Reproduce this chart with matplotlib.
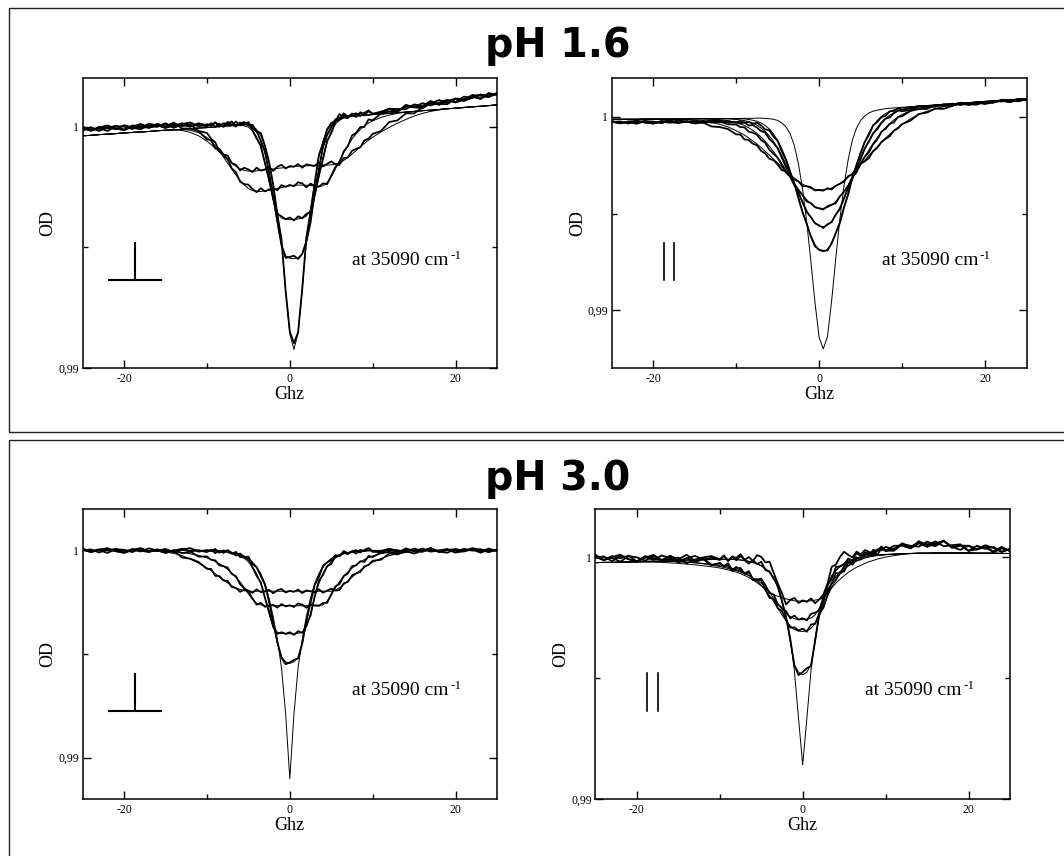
import numpy as np
import matplotlib.pyplot as plt
from matplotlib.patches import Rectangle

# frequency axis (GHz), shared by the four panels
ghz = [-25, -24, -23, -22, -21, -20, -19, -18, -17, -16, -15, -14, -13, -12, -11,
       -10, -9.5, -9, -8.5, -8, -7.5, -7, -6.5, -6, -5.5,
       -5, -4.5, -4, -3.5, -3, -2.5, -2, -1.5, -1, -0.5,
       0, 0.5, 1, 1.5, 2, 2.5, 3, 3.5, 4, 4.5,
       5, 5.5, 6, 6.5, 7, 7.5, 8, 8.5, 9, 9.5, 10,
       11, 12, 13, 14, 15, 16, 17, 18, 19, 20, 21, 22, 23, 24, 25]

# all curves below are (OD - 1) in units of 1e-5

# ---- pH 1.6, perpendicular : fits ----
p16_perp_fit_a = [-38, -36, -33, -31, -29, -26, -24, -22, -20, -17, -15, -13, -16, -24, -38,
                  -60, -74, -89, -105, -121, -137, -151, -164, -174, -181,
                  -184, -184, -183, -181, -179, -177, -175, -173, -171, -169,
                  -167, -165, -164, -163, -162, -161, -160, -160, -159, -159,
                  -158, -155, -150, -140, -128, -114, -99, -84, -69, -56, -44,
                  -22, -3, 14, 30, 44, 55, 63, 69, 74, 77, 80, 82, 85, 87, 90]
p16_perp_fit_b = [-38, -36, -33, -31, -29, -26, -24, -22, -20, -17, -15, -13, -12, -15, -25,
                  -45, -60, -80, -102, -126, -151, -176, -200, -222, -241,
                  -256, -265, -268, -268, -266, -263, -260, -256, -252, -248,
                  -245, -243, -242, -242, -243, -244, -246, -247, -245, -232,
                  -208, -175, -140, -108, -78, -52, -30, -12, 3, 15, 24,
                  38, 48, 55, 60, 63, 66, 68, 71, 74, 76, 79, 82, 84, 87, 90]
p16_perp_fit_c = [-38, -36, -33, -31, -29, -26, -24, -22, -20, -17, -15, -13, -11, -8, -6,
                  -4, -3, -1, 0, 2, 3, 4, 6, 7, 3,
                  -2, -17, -43, -86, -150, -229, -302, -356, -378, -384,
                  -385, -384, -382, -378, -370, -345, -289, -213, -131, -65,
                  -19, 10, 27, 35, 42, 43, 44, 46, 47, 48, 50,
                  52, 55, 58, 60, 63, 66, 68, 71, 74, 76, 79, 82, 84, 87, 90]
p16_perp_fit_d = [-38, -36, -33, -31, -29, -26, -24, -22, -20, -17, -15, -13, -11, -8, -6,
                  -4, -3, -1, 0, 2, 3, 4, 6, 7, 8,
                  5, -4, -23, -56, -110, -189, -292, -401, -490, -534,
                  -545, -546, -542, -528, -482, -390, -279, -173, -91, -35,
                  1, 23, 34, 40, 42, 43, 44, 46, 47, 48, 50,
                  52, 55, 58, 60, 63, 66, 68, 71, 74, 76, 79, 82, 84, 87, 90]
p16_perp_fit_e = [-38, -36, -33, -31, -29, -26, -24, -22, -20, -17, -15, -13, -11, -8, -6,
                  -4, -3, -1, 0, 2, 3, 4, 6, 7, 8,
                  10, 1, -12, -38, -80, -144, -247, -359, -480, -679,
                  -857, -922, -854, -673, -472, -348, -234, -128, -61, -17,
                  12, 28, 39, 40, 42, 43, 44, 46, 47, 48, 50,
                  52, 55, 58, 60, 63, 66, 68, 71, 74, 76, 79, 82, 84, 87, 90]

# ---- pH 1.6, perpendicular : measured ----
p16_perp_dat_a = [-5, -17, -4, 5, -8, -13, 5, 0, -5, 12, 1, 17, -8, -8, -19,
                  -53, -55, -90, -92, -115, -120, -151, -158, -181, -170,
                  -177, -188, -170, -182, -177, -167, -183, -166, -158, -173,
                  -163, -166, -155, -170, -156, -160, -163, -148, -165, -154,
                  -144, -155, -158, -130, -128, -100, -92, -86, -57, -50, -30,
                  -18, 19, 26, 55, 55, 79, 100, 92, 108, 101, 124, 119, 132, 123, 138]
p16_perp_dat_b = [-7, -16, -1, -7, 4, -13, 2, -5, 12, 5, -5, 12, 2, 9, -18,
                  -26, -50, -65, -101, -117, -135, -173, -189, -228, -238,
                  -240, -258, -271, -255, -268, -260, -254, -263, -242, -249,
                  -241, -247, -230, -235, -251, -236, -245, -249, -235, -238,
                  -203, -167, -149, -103, -81, -37, -26, -2, -1, 30, 26,
                  54, 62, 61, 90, 80, 97, 88, 99, 111, 100, 111, 131, 128, 122, 140]
p16_perp_dat_c = [0, -16, -6, -18, 2, 0, -10, 9, -3, 2, 11, -5, 11, 17, 1,
                  10, 5, 17, 0, 14, 10, 6, 21, 5, 11,
                  14, -15, -50, -77, -151, -217, -299, -362, -371, -383,
                  -376, -388, -371, -379, -361, -353, -285, -200, -135, -59,
                  -27, 20, 29, 45, 39, 51, 55, 44, 57, 66, 53,
                  52, 74, 73, 72, 92, 85, 106, 90, 106, 116, 110, 128, 114, 134, 133]
p16_perp_dat_d = [-10, -4, -17, 1, -7, -15, 0, 11, -5, 7, -5, 4, 14, 1, 8,
                  1, 14, -1, 12, 3, 19, 9, 0, 17, 9,
                  19, -8, -18, -59, -100, -189, -295, -391, -491, -543,
                  -539, -534, -548, -526, -474, -398, -274, -183, -81, -35,
                  -3, 30, 29, 55, 42, 50, 40, 59, 53, 67, 51,
                  59, 75, 64, 82, 84, 81, 104, 94, 93, 116, 113, 123, 117, 139, 131]
p16_perp_dat_e = [-17, -3, -17, -3, -11, 6, -4, -11, 6, -1, 14, -3, 7, 0, 14,
                  5, 3, 17, 6, -1, 14, 21, 4, 12, 19,
                  5, 8, -20, -26, -79, -147, -240, -365, -467, -681,
                  -848, -896, -851, -672, -458, -353, -235, -118, -69, -11,
                  15, 23, 52, 39, 35, 54, 48, 55, 46, 64, 53,
                  62, 72, 63, 85, 80, 76, 96, 110, 98, 114, 106, 119, 133, 125, 136]

# ---- pH 1.6, parallel : fits ----
p16_par_fit_a = [-12, -12, -12, -12, -11, -11, -11, -12, -12, -14, -17, -21, -28, -38, -51,
                 -71, -82, -94, -108, -124, -140, -158, -178, -197, -218,
                 -238, -260, -279, -298, -316, -333, -347, -359, -369, -375,
                 -377, -377, -373, -367, -357, -344, -328, -311, -290, -269,
                 -246, -224, -199, -176, -153, -131, -109, -89, -70, -53, -37,
                 -10, 13, 30, 43, 53, 61, 67, 72, 76, 80, 83, 86, 89, 92, 95]
p16_par_fit_b = [-12, -12, -12, -12, -11, -11, -11, -11, -10, -10, -10, -10, -12, -15, -19,
                 -29, -36, -44, -56, -69, -85, -104, -126, -151, -179,
                 -209, -241, -275, -308, -342, -374, -403, -428, -449, -464,
                 -472, -473, -468, -456, -437, -413, -384, -352, -316, -279,
                 -242, -205, -170, -137, -107, -79, -55, -34, -15, -1, 13,
                 32, 45, 53, 59, 64, 68, 71, 74, 77, 80, 83, 86, 89, 92, 95]
p16_par_fit_c = [-12, -12, -12, -12, -11, -11, -11, -11, -10, -10, -10, -9, -9, -10, -10,
                 -13, -16, -19, -24, -32, -42, -57, -75, -98, -126,
                 -160, -200, -243, -291, -341, -391, -439, -483, -520, -548,
                 -564, -568, -560, -540, -508, -468, -420, -369, -315, -262,
                 -210, -164, -121, -84, -54, -28, -8, 9, 22, 31, 38,
                 48, 54, 58, 62, 65, 68, 71, 74, 77, 80, 83, 86, 89, 92, 95]
p16_par_fit_d = [-12, -12, -12, -12, -11, -11, -11, -11, -10, -10, -10, -9, -9, -9, -8,
                 -9, -10, -10, -13, -17, -22, -31, -44, -62, -88,
                 -121, -164, -215, -275, -342, -413, -486, -555, -615, -660,
                 -688, -697, -684, -652, -603, -540, -467, -391, -316, -246,
                 -182, -128, -82, -46, -18, 3, 18, 29, 37, 42, 47,
                 52, 56, 59, 62, 65, 68, 71, 74, 77, 80, 83, 86, 89, 92, 95]
p16_par_fit_e = [-12, -12, -12, -12, -11, -11, -11, -11, -10, -10, -10, -9, -9, -9, -8,
                 -8, -8, -7, -7, -7, -6, -6, -8, -9, -12,
                 -18, -31, -51, -87, -146, -242, -373, -542, -746, -961,
                 -1141, -1199, -1137, -953, -734, -527, -354, -220, -120, -58,
                 -18, 5, 21, 30, 35, 39, 43, 45, 47, 48, 50,
                 53, 56, 59, 62, 65, 68, 71, 74, 77, 80, 83, 86, 89, 92, 95]

# ---- pH 1.6, parallel : measured ----
p16_par_dat_a = [-23, -33, -25, -19, -29, -33, -21, -27, -31, -23, -34, -28, -49, -52, -62,
                 -90, -91, -116, -119, -138, -146, -175, -189, -216, -224,
                 -246, -275, -281, -308, -323, -333, -358, -358, -363, -380,
                 -378, -381, -369, -375, -356, -346, -334, -306, -297, -269,
                 -240, -230, -212, -177, -161, -130, -113, -100, -71, -59, -37,
                 -19, 15, 23, 43, 42, 57, 70, 63, 74, 68, 84, 80, 88, 82, 92]
p16_par_dat_b = [-25, -32, -23, -28, -20, -33, -23, -30, -17, -24, -31, -20, -29, -23, -38,
                 -39, -52, -54, -76, -81, -92, -119, -134, -170, -190,
                 -211, -248, -288, -308, -352, -379, -404, -437, -445, -467,
                 -473, -479, -462, -454, -446, -410, -387, -357, -312, -287,
                 -242, -206, -183, -141, -117, -77, -61, -36, -28, 0, 4,
                 31, 41, 42, 62, 57, 69, 62, 69, 77, 68, 75, 89, 86, 81, 94]
p16_par_dat_c = [-20, -32, -26, -35, -22, -24, -32, -20, -28, -26, -20, -31, -20, -17, -29,
                 -27, -33, -27, -44, -42, -55, -73, -80, -114, -134,
                 -162, -210, -259, -294, -350, -390, -442, -492, -518, -550,
                 -561, -574, -555, -544, -505, -476, -421, -363, -321, -261,
                 -219, -163, -127, -85, -64, -31, -9, -2, 19, 34, 30,
                 36, 54, 53, 53, 66, 61, 74, 63, 73, 79, 74, 87, 76, 90, 89]
p16_par_dat_d = [-27, -23, -34, -22, -28, -34, -25, -18, -29, -22, -31, -25, -18, -28, -22,
                 -29, -21, -31, -25, -35, -29, -44, -64, -69, -101,
                 -124, -179, -222, -286, -343, -420, -494, -552, -619, -669,
                 -687, -692, -691, -654, -601, -548, -467, -401, -312, -249,
                 -188, -129, -93, -43, -26, -1, 6, 29, 31, 45, 38,
                 45, 57, 48, 60, 61, 58, 73, 65, 64, 79, 77, 83, 78, 93, 87]

# ---- pH 3.0, perpendicular : fits ----
p30_perp_fit_a = [0, 0, 0, 0, 0, 0, 0, -1, -2, -4, -8, -14, -25, -42, -62,
                  -84, -97, -112, -128, -143, -157, -170, -182, -188, -195,
                  -197, -197, -197, -197, -197, -197, -197, -197, -197, -197,
                  -197, -197, -197, -197, -197, -197, -197, -197, -197, -197,
                  -197, -192, -180, -165, -148, -130, -112, -96, -82, -69, -57,
                  -39, -25, -16, -10, -6, -3, -2, -1, 0, 0, 0, 0, 0, 0, 0]
p30_perp_fit_b = [0, 0, 0, 0, 0, 0, 0, 0, -1, -2, -3, -6, -10, -16, -24,
                  -36, -44, -53, -64, -77, -92, -110, -130, -152, -180,
                  -210, -235, -255, -263, -267, -267, -267, -267, -267, -267,
                  -267, -267, -267, -267, -267, -266, -265, -264, -263, -245,
                  -215, -180, -150, -125, -104, -86, -70, -56, -44, -35, -27,
                  -16, -9, -5, -2, -1, 0, 0, 0, 0, 0, 0, 0, 0, 0, 0]
p30_perp_fit_c = [0, 0, 0, 0, 0, 0, 0, 0, 0, 0, 0, 0, 0, 0, 0,
                  0, 0, -1, -2, -4, -7, -11, -17, -25, -37,
                  -55, -80, -112, -160, -225, -305, -370, -395, -400, -402,
                  -402, -402, -400, -395, -370, -305, -225, -160, -112, -80,
                  -55, -37, -25, -17, -11, -7, -4, -2, -1, 0, 0,
                  0, 0, 0, 0, 0, 0, 0, 0, 0, 0, 0, 0, 0, 0, 0]
p30_perp_fit_d = [0, 0, 0, 0, 0, 0, 0, 0, 0, 0, 0, 0, 0, 0, 0,
                  -1, -2, -3, -4, -5, -7, -10, -14, -20, -28,
                  -40, -57, -82, -118, -170, -245, -345, -450, -515, -538,
                  -545, -538, -515, -450, -345, -245, -170, -118, -82, -57,
                  -40, -28, -20, -14, -10, -7, -5, -4, -3, -2, -1,
                  0, 0, 0, 0, 0, 0, 0, 0, 0, 0, 0, 0, 0, 0, 0]
p30_perp_fit_e = [0, 0, 0, 0, 0, 0, 0, 0, 0, 0, 0, 0, 0, 0, 0,
                  -1, -2, -3, -4, -5, -7, -10, -14, -20, -28,
                  -40, -57, -80, -112, -160, -230, -320, -430, -566, -790,
                  -1102, -790, -566, -430, -320, -230, -160, -112, -80, -57,
                  -40, -28, -20, -14, -10, -7, -5, -4, -3, -2, -1,
                  0, 0, 0, 0, 0, 0, 0, 0, 0, 0, 0, 0, 0, 0, 0]

# ---- pH 3.0, perpendicular : measured ----
p30_perp_dat_a = [5, -8, 3, 11, -4, -10, 7, -1, -8, 5, -11, -2, -34, -40, -56,
                  -89, -89, -123, -124, -145, -147, -177, -181, -200, -189,
                  -194, -205, -188, -201, -198, -190, -207, -192, -186, -203,
                  -195, -200, -189, -206, -193, -197, -202, -187, -204, -194,
                  -185, -194, -191, -159, -152, -121, -111, -104, -77, -70, -50,
                  -45, -15, -19, -3, -15, -1, 9, -6, 4, -10, 8, -1, 6, -7, 3]
p30_perp_dat_b = [3, -7, 6, -1, 8, -10, 4, -5, 10, 0, -12, 1, -13, -6, -30,
                  -29, -45, -48, -72, -76, -83, -114, -124, -163, -182,
                  -198, -232, -262, -253, -272, -267, -263, -276, -259, -270,
                  -265, -273, -256, -262, -277, -259, -266, -268, -254, -253,
                  -212, -174, -162, -124, -111, -76, -72, -52, -55, -27, -32,
                  -10, -7, -14, 10, -4, 9, -6, 0, 7, -10, -4, 11, 3, -8, 5]
p30_perp_dat_c = [10, -7, 1, -12, 6, 3, -8, 9, -4, -1, 7, -10, 5, 11, -6,
                  2, -3, 7, -11, 0, -7, -16, -7, -32, -34,
                  -43, -82, -123, -154, -229, -296, -369, -403, -395, -403,
                  -395, -408, -390, -398, -363, -314, -223, -149, -117, -76,
                  -65, -29, -26, -11, -18, -4, 1, -10, 2, 11, -4,
                  -10, 7, 0, -6, 9, -3, 12, -9, 2, 6, -5, 8, -11, 4, -2]
p30_perp_dat_d = [0, 5, -10, 7, -3, -12, 2, 11, -6, 4, -9, -1, 8, -5, 1,
                  -8, 4, -13, -1, -12, 2, -12, -25, -15, -32,
                  -30, -65, -81, -124, -163, -248, -350, -442, -518, -549,
                  -541, -528, -522, -450, -339, -254, -167, -130, -73, -59,
                  -46, -23, -28, -3, -14, -5, -15, 3, -4, 10, -7,
                  -3, 8, -9, 4, 1, -7, 10, -5, -11, 6, -2, 3, -8, 9, -4]

# ---- pH 3.0, parallel : fits ----
p30_par_fit_a = [-22, -21, -21, -20, -20, -20, -20, -20, -21, -23, -25, -28, -31, -35, -39,
                 -44, -48, -52, -57, -61, -67, -75, -83, -94, -105,
                 -118, -131, -143, -156, -161, -167, -172, -176, -180, -181,
                 -182, -181, -180, -177, -174, -167, -148, -127, -107, -91,
                 -76, -62, -51, -41, -33, -25, -18, -13, -7, -3, 1,
                 7, 12, 15, 17, 17, 18, 18, 18, 18, 18, 17, 17, 17, 16, 16]
p30_par_fit_b = [-22, -21, -21, -20, -19, -18, -17, -17, -17, -17, -18, -20, -23, -27, -32,
                 -38, -42, -46, -51, -55, -61, -68, -75, -85, -95,
                 -108, -124, -143, -171, -192, -214, -232, -245, -254, -257,
                 -258, -256, -251, -238, -210, -177, -141, -106, -80, -61,
                 -46, -33, -23, -14, -8, -2, 2, 5, 8, 9, 11,
                 13, 15, 16, 17, 17, 18, 18, 18, 18, 18, 17, 17, 17, 16, 16]
p30_par_fit_c = [-22, -21, -21, -20, -19, -18, -17, -17, -17, -17, -18, -20, -22, -25, -29,
                 -34, -38, -41, -46, -51, -58, -66, -75, -87, -100,
                 -116, -136, -158, -183, -210, -238, -264, -284, -299, -305,
                 -307, -303, -294, -274, -243, -202, -161, -124, -93, -70,
                 -51, -36, -25, -16, -9, -3, 2, 5, 8, 9, 11,
                 13, 15, 16, 17, 17, 18, 18, 18, 18, 18, 17, 17, 17, 16, 16]
p30_par_fit_d = [-22, -21, -21, -20, -19, -18, -17, -16, -15, -14, -13, -12, -11, -10, -9,
                 -8, -8, -8, -9, -9, -11, -14, -17, -22, -28,
                 -36, -48, -63, -85, -127, -182, -247, -351, -446, -476,
                 -486, -475, -444, -348, -243, -177, -121, -78, -55, -39,
                 -26, -17, -10, -4, 0, 4, 7, 8, 10, 11, 12,
                 13, 15, 16, 17, 17, 18, 18, 18, 18, 18, 17, 17, 17, 16, 16]
p30_par_fit_e = [-22, -21, -21, -20, -19, -18, -17, -16, -15, -14, -13, -12, -11, -10, -9,
                 -8, -8, -8, -9, -9, -11, -13, -16, -21, -26,
                 -34, -46, -61, -83, -124, -178, -242, -336, -471, -668,
                 -859, -667, -469, -333, -238, -173, -118, -76, -53, -37,
                 -24, -15, -9, -3, 1, 4, 7, 8, 10, 11, 12,
                 13, 15, 16, 17, 17, 18, 18, 18, 18, 18, 17, 17, 17, 16, 16]

# ---- pH 3.0, parallel : measured ----
p30_par_dat_a = [4, -12, 1, 11, -8, -17, 5, -4, -12, 7, -9, 11, -15, 0, 5,
                 -8, 8, -15, 4, -3, 13, -10, 1, -15, 9,
                 2, -21, -18, -64, -109, -149, -195, -176, -168, -189,
                 -178, -184, -170, -190, -174, -153, -108, -39, -30, 2,
                 23, 10, 0, 24, 12, 30, 23, 14, 33, 29, 43,
                 32, 58, 44, 61, 43, 58, 68, 44, 50, 27, 48, 35, 43, 23, 34]
p30_par_dat_b = [2, -11, 5, -4, 7, -17, 1, -11, 8, -4, -21, -3, -20, -7, -34,
                 -23, -37, -34, -55, -48, -44, -68, -62, -94, -93,
                 -88, -115, -148, -154, -194, -210, -223, -253, -241, -258,
                 -252, -261, -234, -229, -220, -164, -138, -107, -65, -66,
                 -37, -19, -31, -5, -8, 21, 11, 24, 10, 38, 27,
                 48, 48, 37, 67, 50, 66, 46, 50, 54, 27, 33, 50, 39, 22, 36]
p30_par_dat_c = [11, -11, -2, -18, 5, 0, -14, 6, -11, -8, -1, -25, -9, -4, -31,
                 -25, -36, -25, -51, -40, -52, -67, -57, -91, -91,
                 -96, -134, -168, -171, -211, -223, -259, -291, -290, -303,
                 -295, -308, -278, -275, -231, -209, -154, -106, -95, -60,
                 -59, -20, -19, 0, -9, 11, 20, 9, 28, 42, 28,
                 27, 54, 48, 44, 65, 51, 69, 39, 48, 48, 32, 46, 21, 37, 27]
p30_par_dat_d = [-2, 4, -16, 6, -7, -19, -1, 10, -12, 1, -16, -5, 6, -9, -2,
                 -11, 6, -15, 1, -12, 6, -12, -26, -11, -28,
                 -18, -53, -58, -89, -114, -182, -249, -338, -447, -487,
                 -475, -459, -450, -345, -232, -184, -113, -89, -40, -37,
                 -29, -5, -13, 18, 4, 17, 6, 31, 25, 45, 26,
                 36, 55, 37, 57, 55, 46, 67, 44, 31, 48, 35, 40, 25, 43, 25]

titles = ['pH 1.6', 'pH 3.0']
y_tick_labels = ['0,99', '1']
note_main = 'at 35090 cm'
note_sup = '-1'

plt.rcParams['font.family'] = ['Liberation Serif', 'DejaVu Serif']
plt.rcParams['axes.unicode_minus'] = False

W, H = 1064, 856
fig = plt.figure(figsize=(W / 100, H / 100), dpi=100)


def px_rect(x0, y0, x1, y1):
    # pixel box (top-left origin) -> figure fraction rect
    return [x0 / W, 1 - y1 / H, (x1 - x0) / W, (y1 - y0) / H]


def to_od(vals):
    return 1 + np.array(vals) * 1e-5


def draw_panel(rect, data, fits, ylim, symbol):
    ax = fig.add_axes(rect)
    for y in data:
        ax.plot(ghz, to_od(y), color='black', lw=1.3)
    for y in fits:
        ax.plot(ghz, to_od(y), color='black', lw=0.7)
    ax.set_xlim(-25, 25)
    ax.set_ylim(*ylim)
    ax.set_xticks([-20, 0, 20])
    ax.set_xticks([-10, 10], minor=True)
    ax.set_yticks([0.99, 1.0])
    ax.set_yticklabels(y_tick_labels)
    ax.set_yticks([0.995], minor=True)
    ax.tick_params(which='both', direction='in', top=True, right=True,
                   width=1.0, labelsize=8.5)
    ax.tick_params(which='major', length=5.5)
    ax.tick_params(which='minor', length=3.5)
    ax.tick_params(axis='x', pad=3.5)
    ax.tick_params(axis='y', pad=2.5)
    for s in ax.spines.values():
        s.set_linewidth(1.1)

    ax.text(0.5, -0.092, 'Ghz', transform=ax.transAxes, ha='center', va='center', fontsize=13)
    ax.text(-0.083, 0.5, 'OD', transform=ax.transAxes, ha='center', va='center',
            rotation=90, fontsize=13)
    t = ax.text(0.651, 0.357, note_main, transform=ax.transAxes, ha='left',
                va='baseline', fontsize=14)
    ax.annotate(note_sup, xy=(1, 1), xycoords=t, xytext=(1, 1.5),
                textcoords='offset points', ha='left', va='top', fontsize=9.5)

    if symbol == 'perp':
        ax.plot([0.1264, 0.1264], [0.3045, 0.431], transform=ax.transAxes, color='black', lw=1.5)
        ax.plot([0.0625, 0.1897], [0.3045, 0.3045], transform=ax.transAxes, color='black', lw=1.5)
    else:
        for xs in (0.125, 0.151):
            ax.plot([xs, xs], [0.3045, 0.433], transform=ax.transAxes, color='black', lw=1.2)
    return ax


# outer frames of the two rows
fig.add_artist(Rectangle((8.6 / W, 1 - 431.7 / H), 1.2, (431.7 - 8.3) / H,
                         transform=fig.transFigure, fill=False, lw=1.0, ec='#222222'))
fig.add_artist(Rectangle((8.6 / W, -0.3), 1.2, 0.3 + 1 - 440.3 / H,
                         transform=fig.transFigure, fill=False, lw=1.0, ec='#222222'))

fig.text(558 / W, 1 - 57 / H, titles[0], ha='center', va='baseline',
         fontsize=28.5, fontweight='bold', family='DejaVu Sans')
fig.text(558 / W, 1 - 490 / H, titles[1], ha='center', va='baseline',
         fontsize=28.5, fontweight='bold', family='DejaVu Sans')

draw_panel(px_rect(82.6, 78.3, 497, 368.3),
           [p16_perp_dat_a, p16_perp_dat_b, p16_perp_dat_c, p16_perp_dat_d, p16_perp_dat_e],
           [p16_perp_fit_a, p16_perp_fit_b, p16_perp_fit_c, p16_perp_fit_d, p16_perp_fit_e],
           (0.99, 1.002), 'perp')
draw_panel(px_rect(611.7, 78.3, 1026.6, 368.3),
           [p16_par_dat_a, p16_par_dat_b, p16_par_dat_c, p16_par_dat_d],
           [p16_par_fit_a, p16_par_fit_b, p16_par_fit_c, p16_par_fit_d, p16_par_fit_e],
           (0.987, 1.002), 'par')
draw_panel(px_rect(82.6, 509, 497, 799),
           [p30_perp_dat_a, p30_perp_dat_b, p30_perp_dat_c, p30_perp_dat_d],
           [p30_perp_fit_a, p30_perp_fit_b, p30_perp_fit_c, p30_perp_fit_d, p30_perp_fit_e],
           (0.988, 1.002), 'perp')
draw_panel(px_rect(595.4, 509, 1010, 799),
           [p30_par_dat_a, p30_par_dat_b, p30_par_dat_c, p30_par_dat_d],
           [p30_par_fit_a, p30_par_fit_b, p30_par_fit_c, p30_par_fit_d, p30_par_fit_e],
           (0.99, 1.002), 'par')

fig.savefig('out.png', dpi=100)
